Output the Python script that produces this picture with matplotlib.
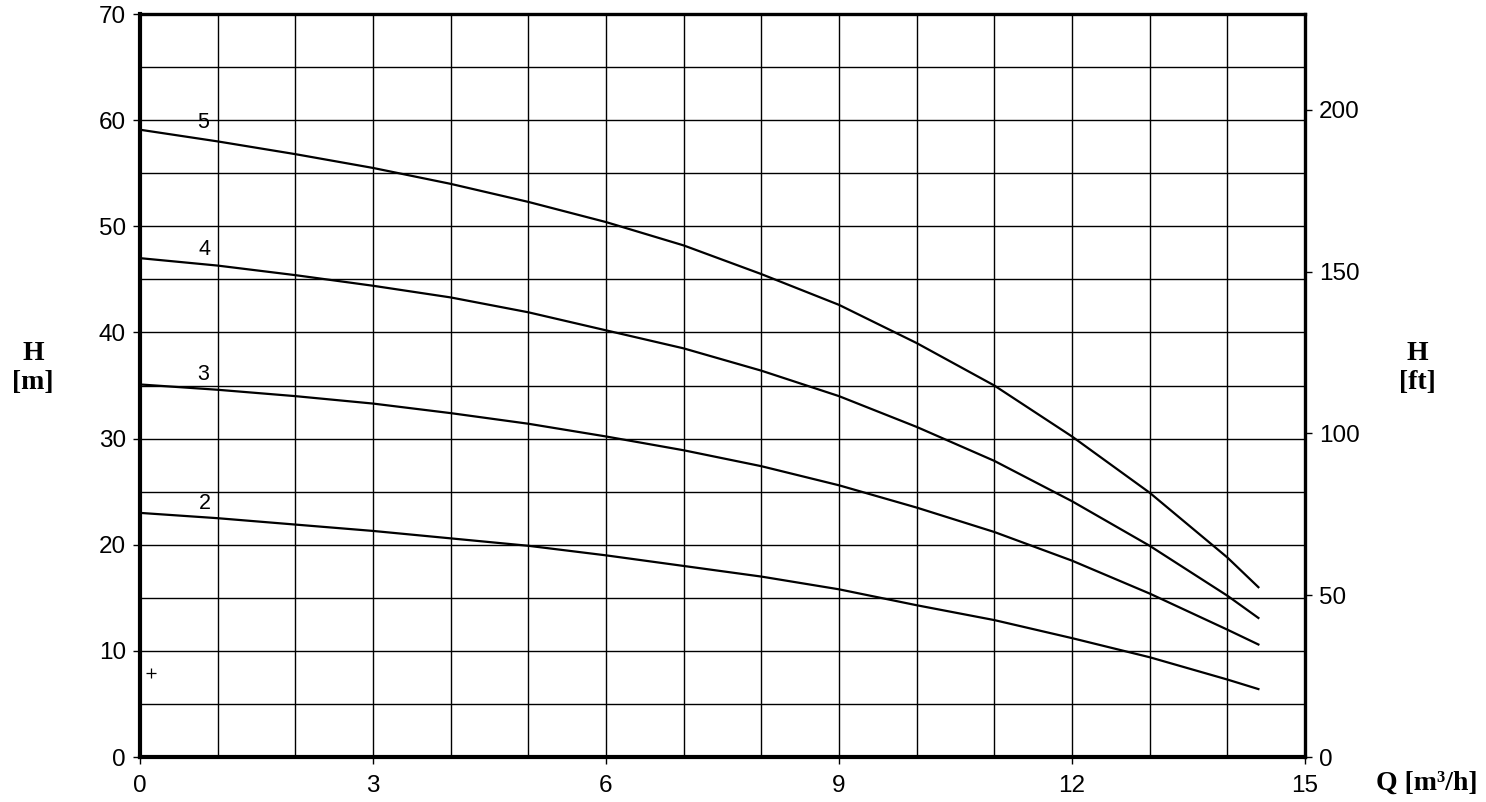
import matplotlib
matplotlib.use("Agg")
import matplotlib.pyplot as plt
import numpy as np

# flow rate Q [m3/h]
q = [0, 1, 2, 3, 4, 5, 6, 7, 8, 9, 10, 11, 12, 13, 14, 14.4]

# head H [m] per stage count
h5 = [59.1, 58.0, 56.8, 55.5, 54.0, 52.3, 50.4, 48.2, 45.5, 42.6, 39.0, 35.0, 30.2, 24.9, 18.8, 16.0]
h4 = [47.0, 46.3, 45.4, 44.4, 43.3, 41.9, 40.2, 38.5, 36.4, 34.0, 31.1, 27.9, 24.1, 19.9, 15.2, 13.1]
h3 = [35.1, 34.6, 34.0, 33.3, 32.4, 31.4, 30.2, 28.9, 27.4, 25.6, 23.5, 21.2, 18.5, 15.4, 12.0, 10.6]
h2 = [23.0, 22.5, 21.9, 21.3, 20.6, 19.9, 19.0, 18.0, 17.0, 15.8, 14.3, 12.9, 11.2, 9.4, 7.3, 6.4]

curves = {"5": h5, "4": h4, "3": h3, "2": h2}
label_pos = {"5": (0.81, 59.8), "4": (0.83, 47.8), "3": (0.82, 36.0), "2": (0.84, 23.9)}

M_TO_FT = 3.28084

sans = "Liberation Sans"
serif = "Liberation Serif"

fig = plt.figure(figsize=(14.86, 8.02), dpi=100)
ax = fig.add_axes([0.0942, 0.0561, 0.7840, 0.9264])

for name, h in curves.items():
    ax.plot(q, h, color="black", linewidth=1.6, solid_joinstyle="round")
    ax.text(*label_pos[name], name, fontsize=15.5, family=sans,
            ha="center", va="center")

# small cross marker near the origin
ax.plot([0.14], [7.95], marker="+", color="black", markersize=7, markeredgewidth=0.9)

ax.set_xlim(0, 15)
ax.set_ylim(0, 70)
ax.set_xticks(np.arange(0, 16, 3))
ax.set_xticks(np.arange(0, 16, 1), minor=True)
ax.set_yticks(np.arange(0, 71, 10))
ax.set_yticks(np.arange(0, 71, 5), minor=True)
ax.grid(which="both", color="black", linewidth=1.0)
ax.tick_params(which="major", direction="out", length=5, width=1.0,
               labelsize=17.5, pad=5)
ax.tick_params(axis="x", which="major", pad=8)
ax.tick_params(which="minor", length=0)
for lab in ax.get_xticklabels() + ax.get_yticklabels():
    lab.set_family(sans)

for side in ["left", "bottom"]:
    ax.spines[side].set_linewidth(3.0)
for side in ["top", "right"]:
    ax.spines[side].set_linewidth(2.4)

ax2 = ax.twinx()
ax2.set_ylim(0, 70 * M_TO_FT)
ax2.set_yticks(np.arange(0, 201, 50))
ax2.tick_params(direction="out", length=5, width=1.0, labelsize=17.5, pad=5)
for lab in ax2.get_yticklabels():
    lab.set_family(sans)
for s in ax2.spines.values():
    s.set_visible(False)

fig.text(33 / 1486, 1 - 368 / 802, "H\n[m]", family=serif, fontweight="bold",
         fontsize=20, ha="center", va="center", linespacing=1.2)
fig.text(1417 / 1486, 1 - 368 / 802, "H\n[ft]", family=serif, fontweight="bold",
         fontsize=20, ha="center", va="center", linespacing=1.2)
fig.text(1427 / 1486, 1 - 783 / 802, "Q [m³/h]", family=serif,
         fontweight="bold", fontsize=20, ha="center", va="center")

fig.savefig("out.png", dpi=100)
